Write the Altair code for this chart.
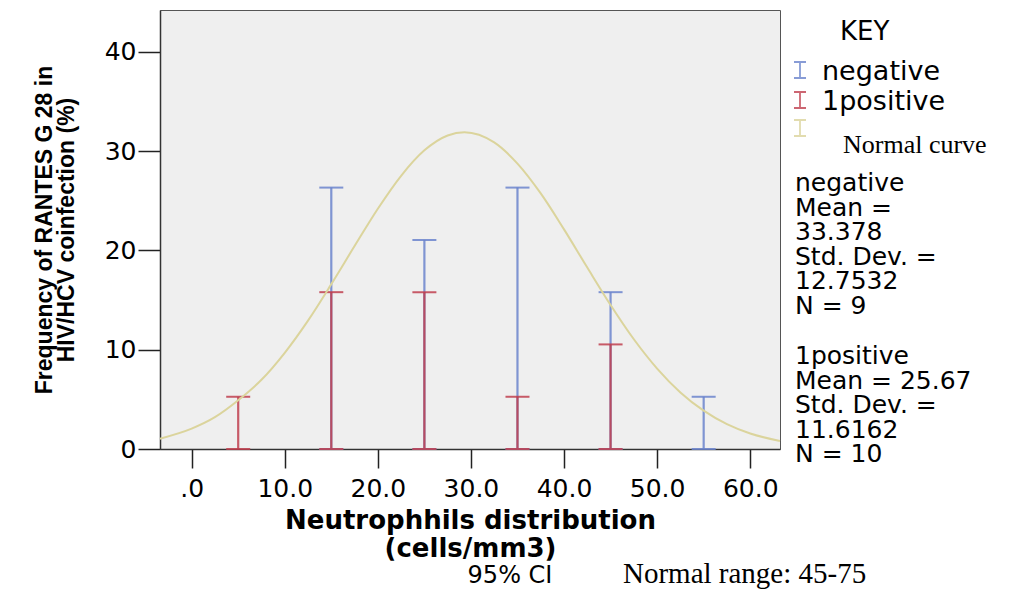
import altair as alt
import pandas as pd

# ---- data ----
x_centers = [5, 15, 25, 35, 45, 55]
negative_pct = [0, 26.32, 21.05, 26.32, 15.79, 5.26]
positive_pct = [5.26, 15.79, 15.79, 5.26, 10.53, 0]
groups = ["negative", "1positive"]

curve_x = [-3.4, 0, 2.5, 5, 7.5, 10, 12.5, 15, 17.5, 20, 22.5, 25, 27.5, 29.3,
           32.5, 35, 37.5, 40, 42.5, 45, 47.5, 50, 52.5, 55, 57.5, 60, 63.2]
curve_y = [1.04, 2.05, 3.2, 4.9, 6.97, 9.69, 12.93, 16.6, 20.43, 24.19, 27.51, 30.07,
           31.57, 31.9, 30.87, 28.74, 25.73, 22.11, 18.27, 14.5, 11.05, 8.1, 5.7,
           3.86, 2.5, 1.56, 0.81]

x_tick_values = [0, 10, 20, 30, 40, 50, 60]
x_tick_labels = [".0", "10.0", "20.0", "30.0", "40.0", "50.0", "60.0"]
y_tick_values = [0, 10, 20, 30, 40]

neg_stats = ["negative", "Mean =", "33.378", "Std. Dev. =", "12.7532", "N = 9"]
pos_stats = ["1positive", "Mean = 25.67", "Std. Dev. =", "11.6162", "N = 10"]

# ---- tables ----
rows = []
for g, vals in zip(groups, [negative_pct, positive_pct]):
    for xc, v in zip(x_centers, vals):
        rows.append({"group": g, "x": xc, "value": v})
bars = pd.DataFrame(rows)
curve = pd.DataFrame({"x": curve_x, "value": curve_y})

BLUE = "#6b84cc"
RED = "#c0404f"
KHAKI = "#dbd49c"
FONT = "DejaVu Sans"

label_expr = "".join(
    f"datum.value == {v} ? '{l}' : " for v, l in zip(x_tick_values, x_tick_labels)
) + "''"

y_scale = alt.Scale(domain=[0, 44.2], nice=False)

x_enc = alt.X(
    "x:Q",
    scale=alt.Scale(domain=[-3.4, 63.2], nice=False, zero=False),
    axis=alt.Axis(
        values=x_tick_values, labelExpr=label_expr, grid=False,
        title=["Neutrophhils distribution", "(cells/mm3)"],
        titleFont=FONT, titleFontSize=26, titleFontWeight="bold", titleColor="black",
        titlePadding=6, titleLineHeight=28,
        labelFont=FONT, labelFontSize=25, labelColor="black", labelPadding=8,
        tickSize=19, tickColor="#222", tickWidth=1.5,
        domainColor="#333", domainWidth=1.5,
    ),
)
y_enc = alt.Y(
    "value:Q",
    scale=y_scale,
    axis=alt.Axis(
        values=y_tick_values, format="d", grid=False,
        title=["Frequency of RANTES G 28 in", "HIV/HCV coinfection (%)"],
        titleFont="Liberation Sans", titleFontSize=23, titleFontWeight="bold",
        titleColor="black", titleLineHeight=22, titlePadding=26,
        labelFont=FONT, labelFontSize=25, labelColor="black", labelPadding=2,
        tickSize=22, tickColor="#222", tickWidth=1.5,
        domainColor="#333", domainWidth=1.5,
    ),
)
color_enc = alt.Color(
    "group:N", scale=alt.Scale(domain=groups, range=[BLUE, RED]), legend=None
)

base = alt.Chart(bars).transform_filter("datum.value > 0")

rules = base.mark_rule(strokeWidth=2.2, opacity=0.85).encode(
    x=x_enc, y=y_enc, y2=alt.datum(0), color=color_enc
)
caps_top = base.mark_tick(orient="horizontal", size=24, thickness=2, opacity=0.85).encode(
    x=x_enc, y=y_enc, color=color_enc
)
caps_bot = base.mark_tick(orient="horizontal", size=24, thickness=2, opacity=0.85).encode(
    x=x_enc, y=alt.datum(0), color=color_enc
)

line = alt.Chart(curve).mark_line(
    color=KHAKI, strokeWidth=2, interpolate="monotone"
).encode(x=x_enc, y=y_enc)

one = alt.Data(values=[{"k": 0}])


def note(text, x, y, size, font=FONT, weight="normal", align="left",
         baseline="middle", line_height=None):
    kw = dict(font=font, fontSize=size, fontWeight=weight, align=align,
              baseline=baseline, color="black")
    if line_height is not None:
        kw["lineHeight"] = line_height
    return alt.Chart(one).mark_text(**kw).encode(
        x=alt.value(x), y=alt.value(y), text=alt.value(text)
    )


I_SHAPE = "M-0.75,-1H0.75M0,-1V1M-0.75,1H0.75"


def key_symbol(color, x, y):
    return alt.Chart(one).mark_point(
        shape=I_SHAPE, size=256, filled=False, color=color, strokeWidth=1.8,
        opacity=0.8
    ).encode(x=alt.value(x), y=alt.value(y))


notes = [
    note("KEY", 680, 22, 26),
    key_symbol(BLUE, 640, 60),
    key_symbol(RED, 640, 90),
    key_symbol(KHAKI, 640, 118),
    note(groups[0], 662, 62, 27),
    note(groups[1], 662, 92, 27),
    note("Normal curve", 683, 135, 26, font="Liberation Serif"),
    note(neg_stats, 635, 161, 25, baseline="top", line_height=24.5),
    note(pos_stats, 635, 334, 25, baseline="top", line_height=24.5),
    note("95% CI", 350, 566, 24, align="center"),
    note("Normal range: 45-75", 463, 564, 29, font="Liberation Serif"),
]

chart = alt.layer(rules, caps_bot, caps_top, line, *notes).properties(
    width=620, height=439,
    padding={"left": 152, "top": 2, "right": 225, "bottom": 141},
    autosize=alt.AutoSizeParams(type="none"),
).configure_view(fill="#efefef", stroke="#555", strokeWidth=1)

chart.save("out.html", embed_options={"renderer": "svg", "actions": False})
